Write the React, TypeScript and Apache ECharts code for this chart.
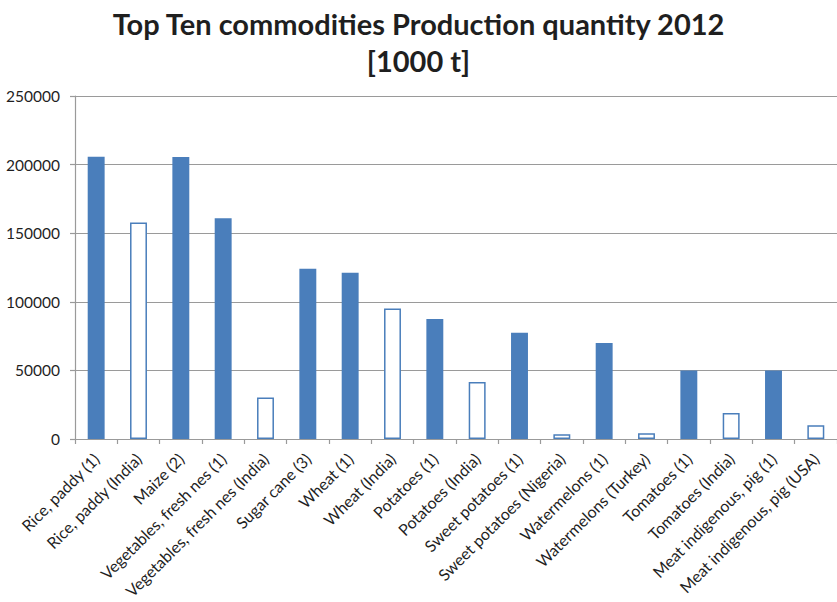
import React, { useEffect, useRef } from "react";
import * as echarts from "echarts";

const titleLines = ["Top Ten commodities Production quantity 2012", "[1000 t]"];

const categories = [
  "Rice, paddy (1)",
  "Rice, paddy (India)",
  "Maize (2)",
  "Vegetables, fresh nes (1)",
  "Vegetables, fresh nes (India)",
  "Sugar cane (3)",
  "Wheat (1)",
  "Wheat (India)",
  "Potatoes (1)",
  "Potatoes (India)",
  "Sweet potatoes (1)",
  "Sweet potatoes (Nigeria)",
  "Watermelons (1)",
  "Watermelons (Turkey)",
  "Tomatoes (1)",
  "Tomatoes (India)",
  "Meat indigenous, pig (1)",
  "Meat indigenous, pig (USA)",
];

const values = [
  205800, 157800, 205600, 160900, 30300, 124000, 121100, 95100, 87400, 41500,
  77400, 3400, 69900, 4100, 50000, 18900, 50000, 10000,
];

// "world" = world-level bar (filled), "country" = single-country bar (hollow)
const kinds = [
  "world", "country", "world", "world", "country", "world", "world", "country", "world", "country",
  "world", "country", "world", "country", "world", "country", "world", "country",
];

const yTicks = { min: 0, max: 250000, interval: 50000 };

const BLUE = "#4a7ebb";
const AXIS = "#9a9a9a";
const TEXT = "#1f1f1f";
const FONT = "Lato, 'Liberation Sans', sans-serif";

export default function App() {
  const ref = useRef<HTMLDivElement>(null);
  useEffect(() => {
    if (!ref.current) return;
    const chart = echarts.init(ref.current, null, { renderer: "svg" });
    chart.setOption({
      animation: false,
      backgroundColor: "#ffffff",
      title: {
        text: titleLines.join("\n"),
        left: "center",
        top: 0,
        padding: [5, 0, 5, 11],
        textStyle: {
          fontFamily: FONT,
          fontWeight: "bold",
          fontSize: 29,
          lineHeight: 37,
          color: TEXT,
        },
      },
      grid: { left: 75, top: 96, right: 0, bottom: 163, containLabel: false },
      xAxis: {
        type: "category",
        data: categories,
        boundaryGap: true,
        axisLine: { lineStyle: { color: AXIS, width: 1.2 } },
        axisTick: { show: true, length: 5, lineStyle: { color: AXIS, width: 1.2 } },
        axisLabel: {
          rotate: 45,
          interval: 0,
          margin: 17,
          fontFamily: FONT,
          fontSize: 16,
          color: TEXT,
        },
      },
      yAxis: {
        type: "value",
        min: yTicks.min,
        max: yTicks.max,
        interval: yTicks.interval,
        axisLine: { show: true, lineStyle: { color: AXIS, width: 1.2 } },
        axisTick: { show: true, length: 5, lineStyle: { color: AXIS, width: 1.2 } },
        splitLine: { lineStyle: { color: AXIS, width: 1.2 } },
        axisLabel: {
          margin: 15,
          fontFamily: FONT,
          fontSize: 15.5,
          color: TEXT,
          formatter: (v: number) => String(v),
        },
      },
      series: [
        {
          type: "bar",
          barWidth: "40%",
          data: values.map((v, i) => ({
            value: v,
            itemStyle:
              kinds[i] === "world"
                ? { color: BLUE }
                : { color: "#ffffff", borderColor: BLUE, borderWidth: 1.5 },
          })),
        },
      ],
    });
    return () => chart.dispose();
  }, []);
  return (
    <div
      ref={ref}
      style={{ position: "absolute", left: 0, top: 0, width: 837, height: 602 }}
    />
  );
}
